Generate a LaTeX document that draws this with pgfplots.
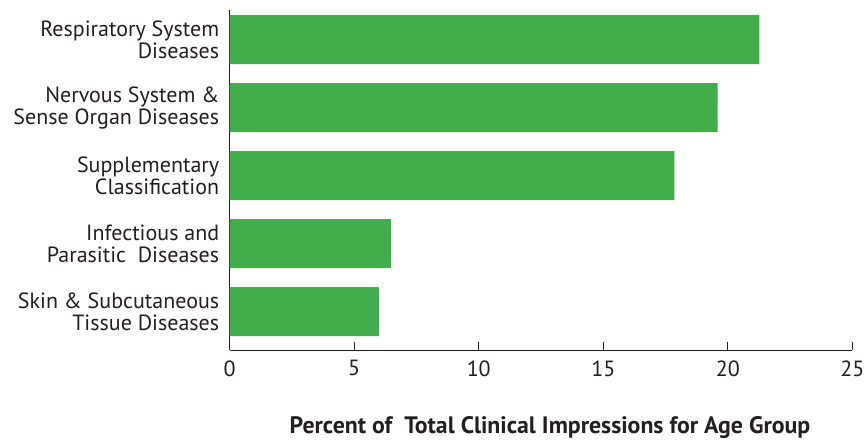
\documentclass[border=0pt]{standalone}
\usepackage{pgfplots}
\pgfplotsset{compat=1.18}
\usepackage{fontspec}
\setmainfont{PT Sans}
\definecolor{bargreen}{RGB}{65,173,75}
\definecolor{txt}{RGB}{35,31,32}
\begin{document}
\begin{tikzpicture}
\useasboundingbox (-229.7pt,-89pt) rectangle (636.3pt,350pt);
\begin{axis}[
  at={(0pt,0pt)}, anchor=south west,
  scale only axis,
  width=622.6pt, height=340pt,
  xmin=0, xmax=25,
  ymin=-0.566, ymax=4.434,
  xtick={0,5,10,15,20,25},
  ytick={0,1,2,3,4},
  yticklabels={{Skin \& Subcutaneous\\Tissue Diseases},{Infectious and\\Parasitic\ \ Diseases},{Supplementary\\Classification},{Nervous System \&\\Sense Organ Diseases},{Respiratory System\\Diseases}},
  yticklabel style={align=right, font=\fontsize{22}{22}\selectfont, text=txt, xshift=1pt},
  xticklabel style={font=\fontsize{22}{22}\selectfont, text=txt, yshift=-7pt},
  /pgf/number format/assume math mode=true,
  axis x line*=bottom, axis y line*=left,
  axis line style={txt, line width=0.8pt},
  x axis line style={-}, y axis line style={-},
  major tick length=8pt,
  xtick style={txt, line width=0.8pt},
  xtick align=inside,
  ytick style={draw=none},
  xbar, bar width=49pt,
  xlabel={\textbf{Percent of\ \ Total Clinical Impressions for Age Group}},
  xlabel style={at={(rel axis cs:0.5145,0)}, anchor=center, yshift=-78pt, font=\fontsize{23.8}{24}\selectfont, text=txt},
]
\addplot[fill=bargreen, draw=none] coordinates {
(5.99,0) (6.47,1) (17.86,2) (19.59,3) (21.27,4)
};
\end{axis}
\end{tikzpicture}
\end{document}
